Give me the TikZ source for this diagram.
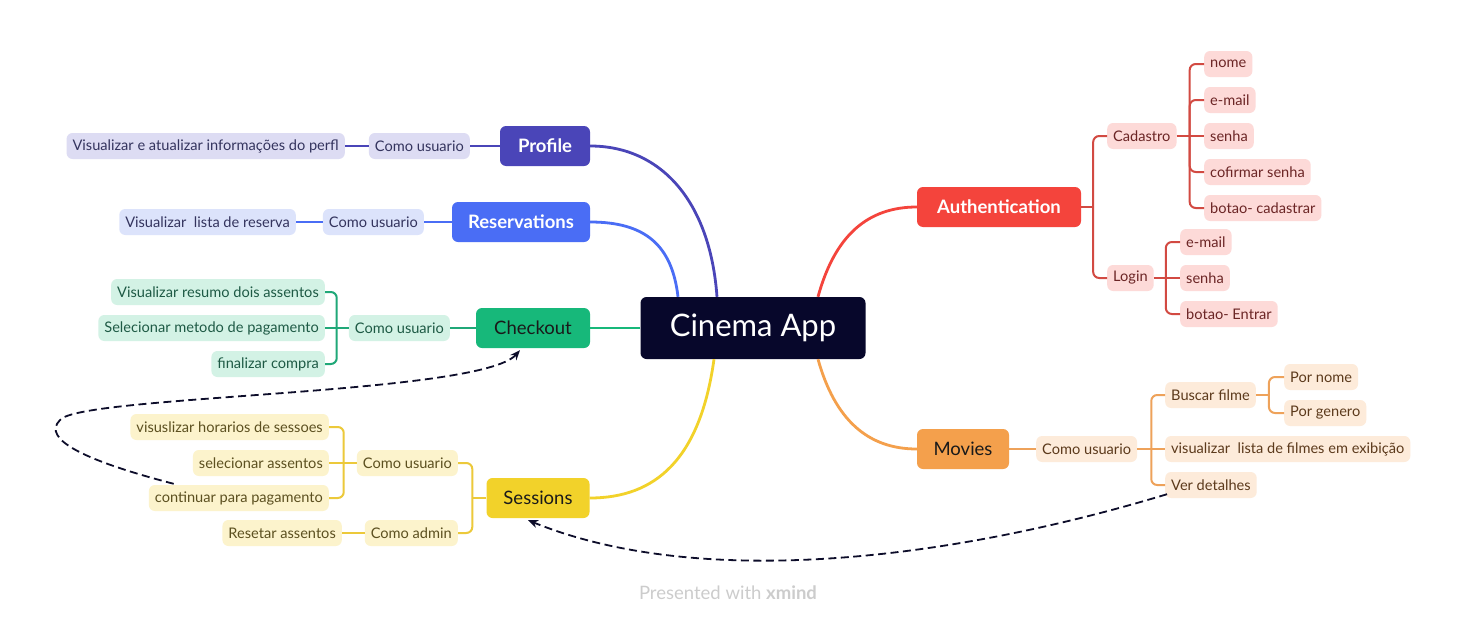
\documentclass[tikz,border=0pt]{standalone}
\usepackage{fontspec}
\setmainfont{Lato}
\usetikzlibrary{calc,arrows.meta}
\definecolor{rootc}{HTML}{07072B}
\definecolor{profc}{HTML}{4A45B8}
\definecolor{profl}{HTML}{DDDCF3}
\definecolor{proft}{HTML}{34345E}
\definecolor{resc}{HTML}{4A6DF5}
\definecolor{resl}{HTML}{DCE3FB}
\definecolor{chkc}{HTML}{17B87A}
\definecolor{chkline}{HTML}{20A878}
\definecolor{chkl}{HTML}{D3F2E5}
\definecolor{chkt}{HTML}{1E5A45}
\definecolor{sesc}{HTML}{F2D22A}
\definecolor{sesline}{HTML}{ECC93A}
\definecolor{sesl}{HTML}{FCF3CC}
\definecolor{sest}{HTML}{5C5020}
\definecolor{authc}{HTML}{F4443C}
\definecolor{authline}{HTML}{D24A42}
\definecolor{authl}{HTML}{FDDAD8}
\definecolor{autht}{HTML}{6B2525}
\definecolor{movc}{HTML}{F4A04C}
\definecolor{movline}{HTML}{EEA25A}
\definecolor{movl}{HTML}{FDEBDA}
\definecolor{movt}{HTML}{5C3A1C}
\definecolor{darktxt}{HTML}{1A1A1A}
\definecolor{dashc}{HTML}{0D0D2A}
\definecolor{credit}{HTML}{CCCCCC}
\begin{document}
\begin{tikzpicture}[x=1pt,y=-1pt,
  root/.style={fill=rootc, rounded corners=6pt, text=white, font=\fontsize{31}{35}\selectfont, minimum width=225pt, minimum height=62pt, inner sep=0pt},
  branch/.style={rounded corners=6pt, font=\fontsize{18.5}{22}\selectfont, minimum height=40pt, inner sep=0pt},
  branchw/.style={branch, text=white, font=\fontsize{18.5}{22}\selectfont\bfseries},
  leaf/.style={rounded corners=6pt, font=\fontsize{14.6}{17}\selectfont, minimum height=26pt, inner xsep=6pt, inner ysep=0pt},
  mainln/.style={line width=2.8pt},
  subln/.style={line width=2pt, rounded corners=6pt},
  dashln/.style={dashc, line width=1.8pt, dash pattern=on 8pt off 4.5pt, -{Stealth[length=10pt,width=8pt]}}
]
\useasboundingbox (0,0) rectangle (1457,624);
\fill[white] (0,0) rectangle (1457,624);

% ---------- nodes ----------
\node[root] (root) at (753,328) {Cinema App};

\node[branchw, fill=profc, minimum width=90pt] (prof) at (545,146) {Profile};
\node[branchw, fill=resc, minimum width=138pt] (res) at (521,222) {Reservations};
\node[branch, fill=chkc, text=darktxt, minimum width=114pt] (chk) at (533,328) {Checkout};
\node[branch, fill=sesc, text=darktxt, minimum width=103pt] (ses) at (538,498) {Sessions};
\node[branchw, fill=authc, minimum width=164pt] (auth) at (999,207) {Authentication};
\node[branch, fill=movc, text=darktxt, minimum width=92pt] (mov) at (963,449) {Movies};

% Profile
\node[leaf, fill=profl, text=proft, anchor=east] (p1) at (470,146) {Como usuario};
\node[leaf, fill=profl, text=proft, anchor=east] (p2) at (345,146) {Visualizar e atualizar informações do perfl};
% Reservations
\node[leaf, fill=resl, text=proft, anchor=east] (r1) at (424,222) {Como usuario};
\node[leaf, fill=resl, text=proft, anchor=east] (r2) at (296,222) {Visualizar\ \ lista de reserva};
% Checkout
\node[leaf, fill=chkl, text=chkt, anchor=east] (c0) at (450,328) {Como usuario};
\node[leaf, fill=chkl, text=chkt, anchor=east] (c1) at (325,292) {Visualizar resumo dois assentos};
\node[leaf, fill=chkl, text=chkt, anchor=east] (c2) at (325,328) {Selecionar metodo de pagamento};
\node[leaf, fill=chkl, text=chkt, anchor=east] (c3) at (325,364) {finalizar compra};
% Sessions
\node[leaf, fill=sesl, text=sest, anchor=east] (s1) at (458,463) {Como usuario};
\node[leaf, fill=sesl, text=sest, anchor=east] (s2) at (458,533) {Como admin};
\node[leaf, fill=sesl, text=sest, anchor=east] (s11) at (329,427) {visuslizar horarios de sessoes};
\node[leaf, fill=sesl, text=sest, anchor=east] (s12) at (329,463) {selecionar assentos};
\node[leaf, fill=sesl, text=sest, anchor=east] (cont) at (329,498) {continuar para pagamento};
\node[leaf, fill=sesl, text=sest, anchor=east] (s21) at (342,533) {Resetar assentos};
% Authentication
\node[leaf, fill=authl, text=autht, anchor=west] (cad) at (1107,136) {Cadastro};
\node[leaf, fill=authl, text=autht, anchor=west] (log) at (1107,278) {Login};
\node[leaf, fill=authl, text=autht, anchor=west] (a11) at (1204,64) {nome};
\node[leaf, fill=authl, text=autht, anchor=west] (a12) at (1204,100) {e-mail};
\node[leaf, fill=authl, text=autht, anchor=west] (a13) at (1204,136) {senha};
\node[leaf, fill=authl, text=autht, anchor=west] (a14) at (1204,172) {cofirmar senha};
\node[leaf, fill=authl, text=autht, anchor=west] (a15) at (1204,208) {botao- cadastrar};
\node[leaf, fill=authl, text=autht, anchor=west] (a21) at (1180,242) {e-mail};
\node[leaf, fill=authl, text=autht, anchor=west] (a22) at (1180,278) {senha};
\node[leaf, fill=authl, text=autht, anchor=west] (a23) at (1180,314) {botao- Entrar};
% Movies
\node[leaf, fill=movl, text=movt, anchor=west] (m0) at (1036,449) {Como usuario};
\node[leaf, fill=movl, text=movt, anchor=west] (m1) at (1165,395) {Buscar filme};
\node[leaf, fill=movl, text=movt, anchor=west] (m2) at (1165,449) {visualizar\ \ lista de filmes em exibição};
\node[leaf, fill=movl, text=movt, anchor=west] (ver) at (1165,485) {Ver detalhes};
\node[leaf, fill=movl, text=movt, anchor=west] (m11) at (1284,377) {Por nome};
\node[leaf, fill=movl, text=movt, anchor=west] (m12) at (1284,413) {Por genero};

\node[text=credit, font=\fontsize{18.5}{21}\selectfont] (credit) at (728,593) {Presented with \textbf{xmind}};

% ---------- main branch curves ----------
\draw[profc, mainln] ($(root.north)+(-36,0)$) .. controls (710,200) and (660,146) .. (prof.east);
\draw[resc, mainln] ($(root.north)+(-75,0)$) .. controls (672,245) and (645,222) .. (res.east);
\draw[chkc, mainln] (root.west) -- (chk.east);
\draw[sesc, mainln] ($(root.south)+(-39,0)$) .. controls (700,460) and (655,498) .. (ses.east);
\draw[authc, mainln] ($(root.north)+(65,0)$) .. controls (835,235) and (868,207) .. (auth.west);
\draw[movc, mainln] ($(root.south)+(65,0)$) .. controls (835,420) and (868,449) .. (mov.west);

% ---------- sub connectors ----------
% Profile
\draw[profc, subln] (prof.west) -- (p1.east);
\draw[profc, subln] (p1.west) -- (p2.east);
% Reservations
\draw[resc, subln] (res.west) -- (r1.east);
\draw[resc, subln] (r1.west) -- (r2.east);
% Checkout
\draw[chkline, subln] (chk.west) -- (c0.east);
\draw[chkline, subln] (c0.west) -- ++(-12,0) coordinate (cj);
\draw[chkline, subln] (cj) |- (c1.east);
\draw[chkline, subln] (cj) -- (c2.east);
\draw[chkline, subln] (cj) |- (c3.east);
% Sessions
\draw[sesline, subln] (ses.west) -- ++(-14,0) coordinate (sj);
\draw[sesline, subln] (sj) |- (s1.east);
\draw[sesline, subln] (sj) |- (s2.east);
\draw[sesline, subln] (s1.west) -- ++(-13,0) coordinate (s1j);
\draw[sesline, subln] (s1j) |- (s11.east);
\draw[sesline, subln] (s1j) -- (s12.east);
\draw[sesline, subln] (s1j) |- (cont.east);
\draw[sesline, subln] (s2.west) -- (s21.east);
% Authentication
\draw[authline, subln] (auth.east) -- ++(12,0) coordinate (aj);
\draw[authline, subln] (aj) |- (cad.west);
\draw[authline, subln] (aj) |- (log.west);
\draw[authline, subln] (cad.east) -- ++(13,0) coordinate (cj2);
\draw[authline, subln] (cj2) |- (a11.west);
\draw[authline, subln] (cj2) |- (a12.west);
\draw[authline, subln] (cj2) -- (a13.west);
\draw[authline, subln] (cj2) |- (a14.west);
\draw[authline, subln] (cj2) |- (a15.west);
\draw[authline, subln] (log.east) -- ++(12,0) coordinate (lj);
\draw[authline, subln] (lj) |- (a21.west);
\draw[authline, subln] (lj) -- (a22.west);
\draw[authline, subln] (lj) |- (a23.west);
% Movies
\draw[movline, subln] (mov.east) -- (m0.west);
\draw[movline, subln] (m0.east) -- ++(14,0) coordinate (mj);
\draw[movline, subln] (mj) |- (m1.west);
\draw[movline, subln] (mj) -- (m2.west);
\draw[movline, subln] (mj) |- (ver.west);
\draw[movline, subln] (m1.east) -- ++(13,0) coordinate (bj);
\draw[movline, subln] (bj) |- (m11.west);
\draw[movline, subln] (bj) |- (m12.west);

% ---------- dashed relations ----------
\draw[dashln] ($(cont.north west)+(25,-1)$) .. controls (90,462) and (40,440) .. (60,420)
   .. controls (80,395) and (480,395) .. ($(chk.south)+(-13,2)$);
\draw[dashln] ($(ver.south west)+(2,-4)$) .. controls (950,560) and (700,590) .. ($(ses.south)+(-10,2)$);
\end{tikzpicture}
\end{document}
